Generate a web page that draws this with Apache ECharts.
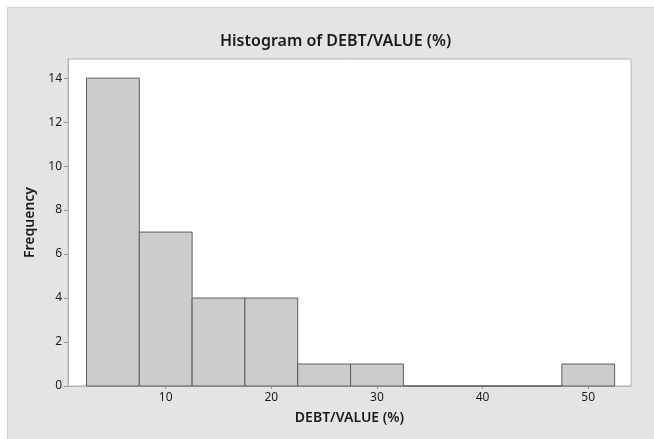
<!DOCTYPE html>
<html><head><meta charset="utf-8">
<script src="https://cdn.jsdelivr.net/npm/echarts@6/dist/echarts.min.js"></script>
<style>
html,body{margin:0;padding:0;background:#fff;overflow:hidden;width:654px;height:439px;}
#bg{position:absolute;left:7px;top:7px;width:647px;height:432px;background:#e4e4e4;border-top:1px solid #d2d2d2;border-left:1px solid #d2d2d2;box-sizing:border-box;}
#chart{position:absolute;left:0;top:0;width:654px;height:439px;}
</style></head>
<body><div id="bg"></div><div id="chart"></div>
<script>
var binStart = [2.5, 7.5, 12.5, 17.5, 22.5, 27.5, 32.5, 37.5, 42.5, 47.5];
var binEnd   = [7.5, 12.5, 17.5, 22.5, 27.5, 32.5, 37.5, 42.5, 47.5, 52.5];
var counts   = [14, 7, 4, 4, 1, 1, 0, 0, 0, 1];
var xTicks = [10, 20, 30, 40, 50];
var yTicks = [0, 2, 4, 6, 8, 10, 12, 14];

var data = binStart.map(function(s, i){ return [s, binEnd[i], counts[i]]; });
var font = 'Noto Sans';
var chart = echarts.init(document.getElementById('chart'), null, {renderer:'canvas'});
chart.setOption({
  animation: false,
  title: {
    text: 'Histogram of DEBT/VALUE (%)',
    left: 215, top: 28,
    textStyle: {fontFamily: font, fontSize: 16, fontWeight: 600, color: '#1a1a1a'}
  },
  grid: {left: 68, top: 59, right: 23, bottom: 53, show: true, backgroundColor: '#ffffff', borderColor: '#b4b4b4', borderWidth: 1},
  xAxis: {
    type: 'value', min: 0.75, max: 54.05,
    name: 'DEBT/VALUE (%)', nameLocation: 'middle', nameGap: 25,
    nameTextStyle: {fontFamily: font, fontSize: 14, fontWeight: 600, color: '#1a1a1a'},
    splitLine: {show: false},
    axisLine: {show: true, lineStyle: {color: '#b4b4b4'}},
    axisTick: {show: true, length: 3, customValues: xTicks, lineStyle: {color: '#9a9a9a'}},
    axisLabel: {customValues: xTicks, margin: 6, fontFamily: font, fontSize: 12, color: '#1a1a1a'}
  },
  yAxis: {
    type: 'value', min: 0, max: 14.87,
    name: 'Frequency', nameLocation: 'middle', nameGap: 29,
    nameTextStyle: {fontFamily: font, fontSize: 14, fontWeight: 600, color: '#1a1a1a'},
    splitLine: {show: false},
    axisLine: {show: true, lineStyle: {color: '#b4b4b4'}},
    axisTick: {show: true, length: 4, customValues: yTicks, lineStyle: {color: '#9a9a9a'}},
    axisLabel: {customValues: yTicks, margin: 6, fontFamily: font, fontSize: 12, color: '#1a1a1a'}
  },
  series: [{
    type: 'custom',
    data: data,
    encode: {x: [0, 1], y: 2},
    renderItem: function(params, api){
      var p0 = api.coord([api.value(0), api.value(2)]);
      var p1 = api.coord([api.value(1), 0]);
      return {
        type: 'rect',
        shape: {x: p0[0], y: p0[1], width: p1[0] - p0[0], height: p1[1] - p0[1]},
        style: {fill: '#cccccc', stroke: '#5c5c5c', lineWidth: 1}
      };
    }
  }]
});
</script></body></html>
